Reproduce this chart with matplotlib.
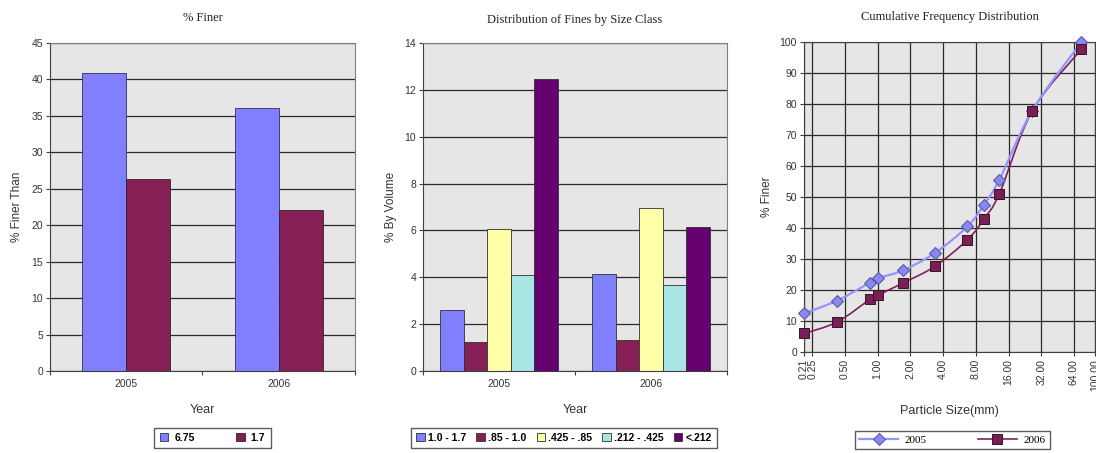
import matplotlib
matplotlib.use("Agg")
import matplotlib.pyplot as plt
from matplotlib.path import Path
from matplotlib.patches import PathPatch
from matplotlib.lines import Line2D
import numpy as np

# ---------------- data ----------------
years = ["2005", "2006"]

finer_labels = ["6.75", "1.7"]
finer_675 = [40.9, 36.1]
finer_17 = [26.4, 22.1]

class_labels = ["1.0 - 1.7", ".85 - 1.0", ".425 - .85", ".212 - .425", "<.212"]
cls_10_17 = [2.59, 4.15]
cls_085_10 = [1.24, 1.31]
cls_0425_085 = [6.07, 6.97]
cls_0212_0425 = [4.11, 3.66]
cls_lt_0212 = [12.45, 6.15]

sizes = [0.212, 0.425, 0.85, 1.0, 1.7, 3.35, 6.7, 9.5, 13.2, 26.5, 75.0]
cum_2005 = [12.5, 16.6, 22.4, 23.8, 26.3, 31.9, 40.5, 47.5, 55.6, 77.9, 100.0]
cum_2006 = [6.0, 9.7, 17.0, 18.3, 22.2, 27.6, 36.2, 42.9, 51.1, 77.8, 97.7]
size_ticks = [0.21, 0.25, 0.50, 1.00, 2.00, 4.00, 8.00, 16.00, 32.00, 64.00, 100.00]

# ---------------- style ----------------
BG = "#E6E6E6"
GRID = "#2a2a2a"
C_BLUE = "#8080FF"
C_MAROON = "#861F55"
C_YELLOW = "#FFFFA8"
C_CYAN = "#A8E6E6"
C_PURPLE = "#660070"
SERIF = ["Liberation Serif", "DejaVu Serif"]
SANS = ["Liberation Sans", "DejaVu Sans"]

plt.rcParams["font.family"] = SANS

fig = plt.figure(figsize=(10.96, 4.53), dpi=100)
W, H = 1096.0, 453.0


def px_axes(l, t, r, b):
    return fig.add_axes([l / W, 1 - b / H, (r - l) / W, (b - t) / H])


def style_bar_axes(ax, ymax, step):
    ax.set_facecolor(BG)
    ax.set_ylim(0, ymax)
    ax.set_yticks(np.arange(0, ymax + 0.001, step))
    ax.yaxis.grid(True, color=GRID, linewidth=0.9)
    ax.set_axisbelow(True)
    for s in ["top", "right"]:
        ax.spines[s].set_color("#808080")
        ax.spines[s].set_linewidth(0.8)
    for s in ["left", "bottom"]:
        ax.spines[s].set_color("#404040")
        ax.spines[s].set_linewidth(0.8)
    ax.tick_params(axis="y", labelsize=7.5, length=3, color="#404040", pad=2, labelcolor="#333333")
    ax.set_xlim(0, 2)
    ax.set_xticks([0, 1, 2], minor=False)
    ax.set_xticklabels([])
    ax.set_xticks([0.5, 1.5], minor=True)
    ax.set_xticklabels(years, minor=True)
    ax.tick_params(axis="x", which="major", length=3, color="#404040")
    ax.tick_params(axis="x", which="minor", length=0, labelsize=7.5, pad=6, labelcolor="#333333")


def smooth_path(xs, ys):
    """Catmull-Rom style Bezier through the data points, built in log2-x space."""
    lx = np.log2(np.asarray(xs, float))
    y = np.asarray(ys, float)
    n = len(lx)
    verts = [(xs[0], y[0])]
    codes = [Path.MOVETO]
    for i in range(n - 1):
        p0 = (lx[max(i - 1, 0)], y[max(i - 1, 0)])
        p1 = (lx[i], y[i])
        p2 = (lx[i + 1], y[i + 1])
        p3 = (lx[min(i + 2, n - 1)], y[min(i + 2, n - 1)])
        c1 = (p1[0] + (p2[0] - p0[0]) / 6.0, p1[1] + (p2[1] - p0[1]) / 6.0)
        c2 = (p2[0] - (p3[0] - p1[0]) / 6.0, p2[1] - (p3[1] - p1[1]) / 6.0)
        verts += [(2 ** c1[0], c1[1]), (2 ** c2[0], c2[1]), (2 ** p2[0], p2[1])]
        codes += [Path.CURVE4] * 3
    return Path(verts, codes)


# ---------- panel 1 ----------
ax1 = px_axes(50, 43, 355, 371)
centers = np.array([0.5, 1.5])
bw = 0.29
ax1.bar(centers - bw / 2, finer_675, width=bw, color=C_BLUE, edgecolor="#30305a", linewidth=0.6, label=finer_labels[0])
ax1.bar(centers + bw / 2, finer_17, width=bw, color=C_MAROON, edgecolor="#30202a", linewidth=0.6, label=finer_labels[1])
style_bar_axes(ax1, 45, 5)
ax1.set_title("% Finer", fontsize=9, family=SERIF, pad=16, color="#222222")
ax1.set_ylabel("% Finer Than", fontsize=8.5, color="#333333", labelpad=6)
ax1.set_xlabel("Year", fontsize=9, color="#333333", labelpad=10.5)
ax1.legend(loc="center", bbox_to_anchor=((153 + 272) / 2 / W, 1 - 438 / H), bbox_transform=fig.transFigure,
           ncol=2, frameon=True, fancybox=False, edgecolor="#333333", prop={"weight": "bold", "size": 7.5},
           handlelength=0.8, handleheight=0.8, columnspacing=4.0, handletextpad=0.6, borderpad=0.5)

# ---------- panel 2 ----------
ax2 = px_axes(423, 43, 727, 371)
series2 = [cls_10_17, cls_085_10, cls_0425_085, cls_0212_0425, cls_lt_0212]
colors2 = [C_BLUE, C_MAROON, C_YELLOW, C_CYAN, C_PURPLE]
bw2 = 0.154
for i, (vals, c, lab) in enumerate(zip(series2, colors2, class_labels)):
    ax2.bar(centers + (i - 2) * bw2, vals, width=bw2, color=c, edgecolor="#303030", linewidth=0.6, label=lab)
style_bar_axes(ax2, 14, 2)
ax2.set_title("Distribution of Fines by Size Class", fontsize=9, family=SERIF, pad=14.4, color="#222222")
ax2.set_ylabel("% By Volume", fontsize=8.5, color="#333333", labelpad=5)
ax2.set_xlabel("Year", fontsize=9, color="#333333", labelpad=10.5)
ax2.legend(loc="center", bbox_to_anchor=((413 + 715) / 2 / W, 1 - 438 / H), bbox_transform=fig.transFigure,
           ncol=5, frameon=True, fancybox=False, edgecolor="#333333", prop={"weight": "bold", "size": 7.5},
           handlelength=0.8, handleheight=0.8, columnspacing=1.0, handletextpad=0.3, borderpad=0.5)

# ---------- panel 3 ----------
ax3 = px_axes(804, 42, 1095, 352)
ax3.set_facecolor(BG)
ax3.set_xscale("log", base=2)
ax3.set_xlim(0.21, 100)
ax3.set_ylim(0, 100)
ax3.set_yticks(np.arange(0, 101, 10))
ax3.set_xticks(size_ticks)
ax3.set_xticklabels(["%.2f" % v for v in size_ticks], rotation=90)
ax3.xaxis.set_minor_locator(matplotlib.ticker.NullLocator())
ax3.grid(True, color=GRID, linewidth=0.9)
ax3.set_axisbelow(True)

L05 = dict(color="#9494FF", linewidth=1.6)
L06 = dict(color="#7F1F5A", linewidth=1.2)
M05 = dict(marker="D", markersize=6.5, markerfacecolor="#8888F0", markeredgecolor="#5050A0", markeredgewidth=0.7)
M06 = dict(marker="s", markersize=6.5, markerfacecolor="#7A1F55", markeredgecolor="#3a1028", markeredgewidth=0.7)

ax3.add_patch(PathPatch(smooth_path(sizes, cum_2005), fill=False, edgecolor=L05["color"],
                        linewidth=L05["linewidth"], zorder=2.5))
ax3.add_patch(PathPatch(smooth_path(sizes, cum_2006), fill=False, edgecolor=L06["color"],
                        linewidth=L06["linewidth"], zorder=2.4))
ax3.plot(sizes, cum_2005, linestyle="none", zorder=3, clip_on=False, **M05)
ax3.plot(sizes, cum_2006, linestyle="none", zorder=3, clip_on=False, **M06)
ax3.set_xlim(0.21, 100)
ax3.set_ylim(0, 100)

for s in ax3.spines.values():
    s.set_color("#404040")
    s.set_linewidth(0.8)
ax3.tick_params(axis="both", labelsize=7.5, length=3, color="#404040", pad=2, labelcolor="#333333")
ax3.set_title("Cumulative Frequency Distribution", fontsize=9, family=SERIF, pad=16, color="#222222")
ax3.set_ylabel("% Finer", fontsize=8.5, color="#333333", labelpad=5)
ax3.set_xlabel("Particle Size(mm)", fontsize=9, color="#333333", labelpad=10)
handles3 = [Line2D([], [], **L05, **M05), Line2D([], [], **L06, **M06)]
ax3.legend(handles3, years, loc="center", bbox_to_anchor=((852 + 1053) / 2 / W, 1 - 440 / H),
           bbox_transform=fig.transFigure, ncol=2, frameon=True, fancybox=False, edgecolor="#333333",
           prop={"family": SERIF, "size": 8}, handlelength=3.5, columnspacing=4.6, handletextpad=0.6,
           borderpad=0.4)

fig.savefig("out.png", dpi=100)
